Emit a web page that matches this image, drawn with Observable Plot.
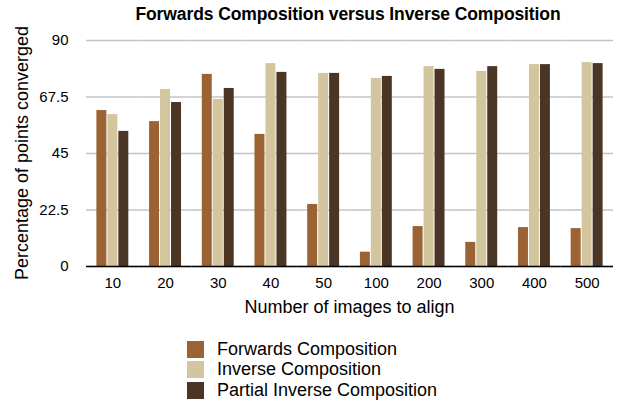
<!DOCTYPE html>
<html>
<head>
<meta charset="utf-8">
<script src="https://cdn.jsdelivr.net/npm/d3@7"></script>
<script src="https://cdn.jsdelivr.net/npm/@observablehq/plot@0.6"></script>
<style>
  html, body { margin: 0; padding: 0; background: #fff; }
  body { width: 621px; height: 403px; position: relative; overflow: hidden; font-family: "Liberation Sans", Arial, sans-serif; color: #000; }
  #title { position: absolute; top: 4px; left: 75px; width: 546px; text-align: center; font-weight: bold; font-size: 17.5px; letter-spacing: -0.1px; }
  #chart { position: absolute; top: 30px; left: 0; }
  #ylabel { position: absolute; left: 22px; top: 153px; transform: translate(-50%, -50%) rotate(-90deg); white-space: nowrap; font-size: 18px; }
  #xlabel { position: absolute; top: 297px; left: 86px; width: 527px; text-align: center; font-size: 18px; }
  #legend { position: absolute; top: 339px; left: 187px; }
  .item { display: flex; align-items: center; height: 20.5px; font-size: 18px; }
  .sw { width: 17px; height: 17px; margin-right: 13px; }
</style>
</head>
<body>
<div id="title">Forwards Composition versus Inverse Composition</div>
<div id="chart"></div>
<div id="ylabel">Percentage of points converged</div>
<div id="xlabel">Number of images to align</div>
<div id="legend"></div>
<script>
const groups = ["10", "20", "30", "40", "50", "100", "200", "300", "400", "500"];
const series = ["Forwards Composition", "Inverse Composition", "Partial Inverse Composition"];
const forwards = [62.1, 57.7, 76.5, 52.6, 24.7, 5.7, 15.9, 9.6, 15.5, 15.1];
const inverse  = [60.5, 70.5, 66.5, 80.8, 76.9, 74.9, 79.6, 77.7, 80.4, 81.2];
const partial  = [53.8, 65.3, 70.9, 77.3, 76.9, 75.7, 78.5, 79.6, 80.4, 80.8];
const colors = ["#9b6333", "#d3c59e", "#4b3626"];
const yTicks = [0, 22.5, 45, 67.5, 90];

const valuesBySeries = [forwards, inverse, partial];
const data = [];
groups.forEach((g, i) => {
  series.forEach((s, j) => data.push({group: g, series: s, value: valuesBySeries[j][i]}));
});

const chart = Plot.plot({
  width: 621,
  height: 298,
  marginTop: 10,
  marginBottom: 62,
  marginLeft: 86,
  marginRight: 8,
  style: {fontFamily: "Liberation Sans, Arial, sans-serif", color: "#000", background: "transparent"},
  fx: {domain: groups, paddingInner: 0, paddingOuter: 0, round: false, label: null},
  x: {domain: series, paddingInner: 0, paddingOuter: 0.9, round: false, axis: null},
  y: {domain: [0, 90], label: null},
  color: {domain: series, range: colors},
  marks: [
    Plot.gridY(yTicks, {stroke: "#c4c4c4", strokeOpacity: 1, strokeWidth: 1.5}),
    Plot.barY(data, {fx: "group", x: "series", y: "value", fill: "series", insetLeft: 0.5, insetRight: 0.5}),
    Plot.ruleY([0], {stroke: "#000", strokeWidth: 1.5}),
    Plot.axisY(yTicks, {tickSize: 0, tickPadding: 18, fontSize: 15, label: null, tickFormat: d => String(d)}),
    Plot.axisFx({anchor: "bottom", tickSize: 0, tickPadding: 11, fontSize: 15, label: null})
  ]
});
document.getElementById("chart").appendChild(chart);

const legend = document.getElementById("legend");
series.forEach((s, j) => {
  const item = document.createElement("div");
  item.className = "item";
  const sw = document.createElement("div");
  sw.className = "sw";
  sw.style.background = colors[j];
  const label = document.createElement("span");
  label.textContent = s;
  item.appendChild(sw);
  item.appendChild(label);
  legend.appendChild(item);
});
</script>
</body>
</html>
